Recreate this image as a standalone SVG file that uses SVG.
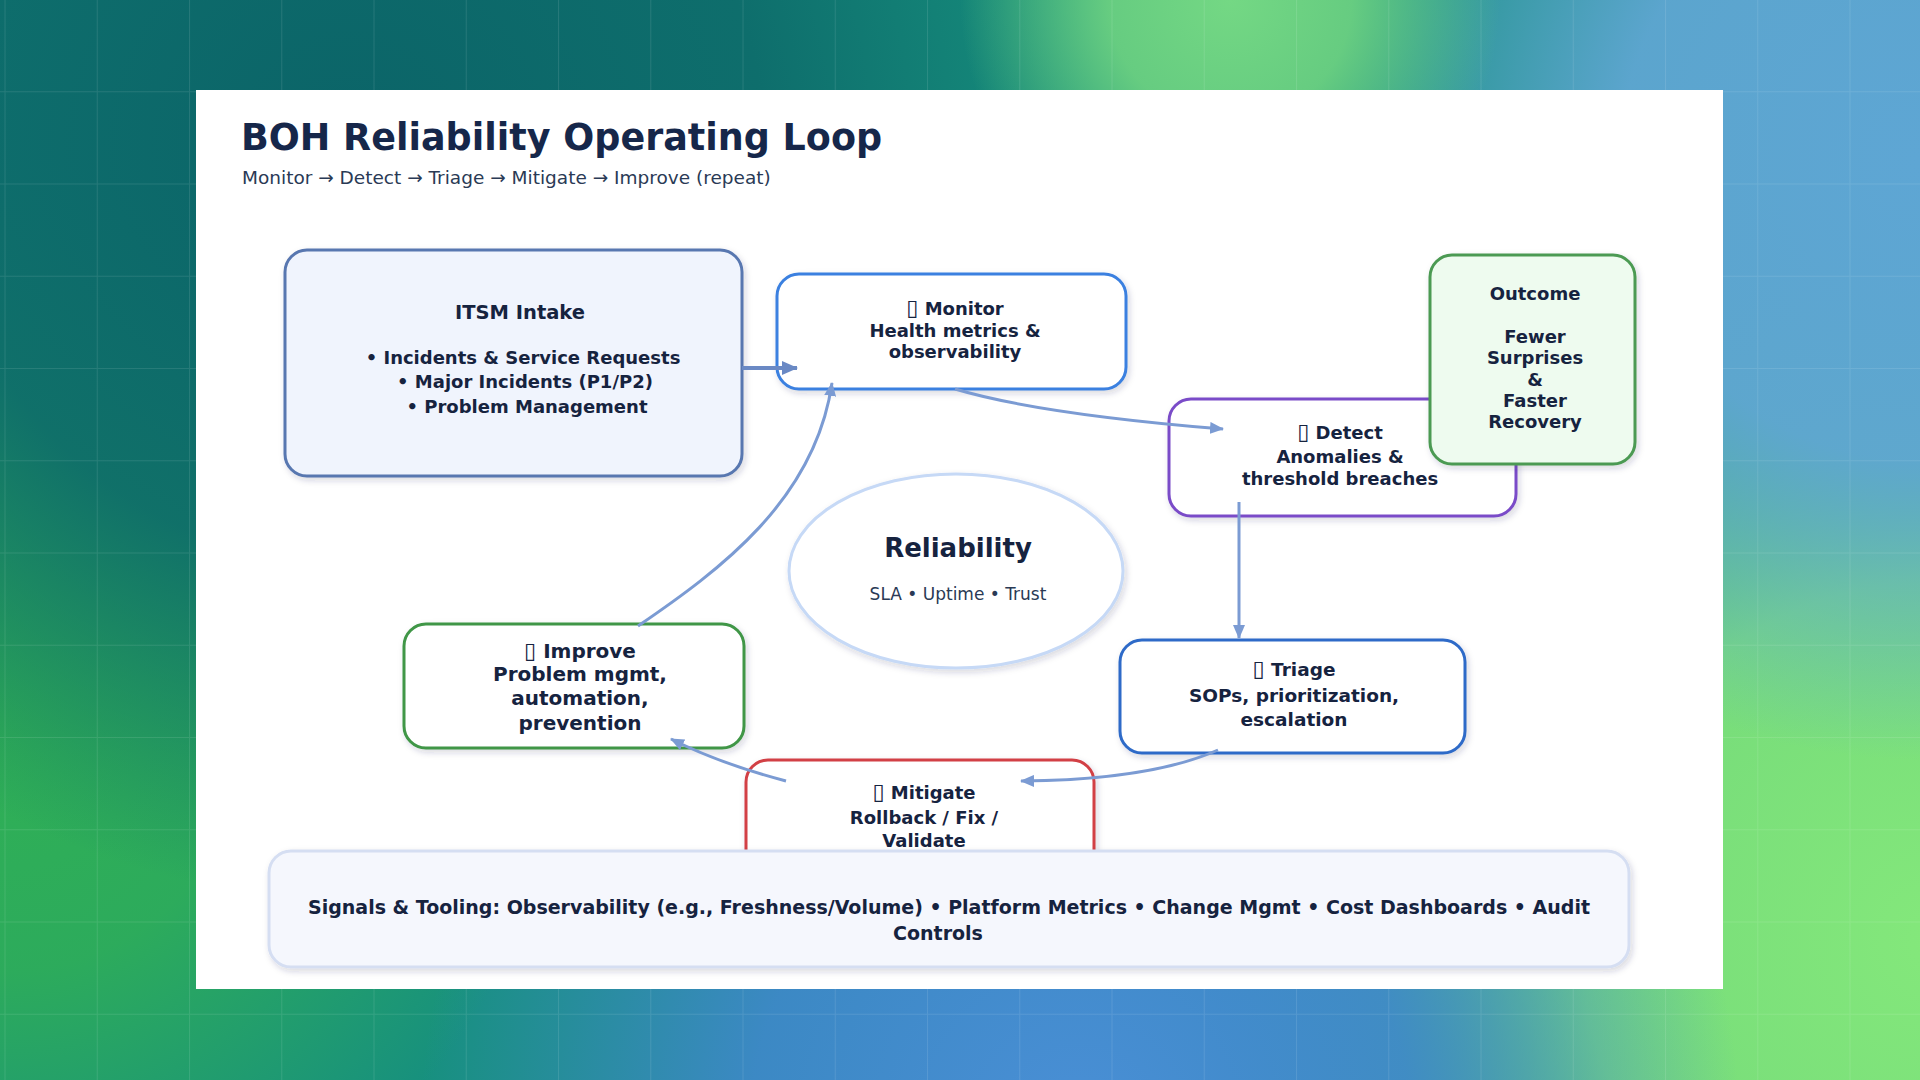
<svg xmlns="http://www.w3.org/2000/svg" width="1920" height="1080" viewBox="0 0 1920 1080">
<defs>
<style>
.t{font-family:"DejaVu Sans","Liberation Sans",sans-serif;font-weight:bold;fill:#16233f;text-anchor:middle;font-size:18px}
.r{font-family:"DejaVu Sans","Liberation Sans",sans-serif;fill:#2a3a55}
.ic{font-weight:normal;font-size:22px}
.box{stroke-width:3}
.conn{fill:none;stroke:#7b9bd3;stroke-width:3}
</style>
<radialGradient id="gA" cx="350" cy="150" r="750" gradientUnits="userSpaceOnUse"><stop offset="0" stop-color="#0b6468"/><stop offset="0.55" stop-color="#0d6a6a" stop-opacity="0.9"/><stop offset="1" stop-color="#0d6a6a" stop-opacity="0"/></radialGradient>
<radialGradient id="gB" cx="0" cy="720" r="560" gradientUnits="userSpaceOnUse"><stop offset="0" stop-color="#30b055"/><stop offset="0.45" stop-color="#2fae58" stop-opacity="0.9"/><stop offset="1" stop-color="#2fae58" stop-opacity="0"/></radialGradient>
<radialGradient id="gC" cx="1080" cy="1130" r="660" gradientUnits="userSpaceOnUse"><stop offset="0" stop-color="#4a8fd6"/><stop offset="0.5" stop-color="#4088cc" stop-opacity="0.9"/><stop offset="1" stop-color="#4088cc" stop-opacity="0"/></radialGradient>
<radialGradient id="gD" cx="1940" cy="940" r="720" gradientUnits="userSpaceOnUse"><stop offset="0" stop-color="#84e87b"/><stop offset="0.5" stop-color="#7ce07a" stop-opacity="0.95"/><stop offset="1" stop-color="#7ce07a" stop-opacity="0"/></radialGradient>
<radialGradient id="gE" cx="1920" cy="160" r="600" gradientUnits="userSpaceOnUse"><stop offset="0" stop-color="#5ea6d4"/><stop offset="0.5" stop-color="#5fa6d2" stop-opacity="0.95"/><stop offset="1" stop-color="#5fa6d2" stop-opacity="0"/></radialGradient>
<radialGradient id="gF" cx="1230" cy="0" r="270" gradientUnits="userSpaceOnUse"><stop offset="0" stop-color="#74d884"/><stop offset="0.45" stop-color="#6fd381" stop-opacity="0.9"/><stop offset="1" stop-color="#6fd381" stop-opacity="0"/></radialGradient>
<pattern id="grid" x="4.5" y="-1" width="92.25" height="92.25" patternUnits="userSpaceOnUse"><path d="M0 0V92.25M0 0H92.25" stroke="#ffffff" stroke-opacity="0.1" stroke-width="2" fill="none"/></pattern>
<filter id="sh" x="-10%" y="-10%" width="120%" height="130%"><feDropShadow dx="2" dy="3" stdDeviation="3" flood-color="#1a2a50" flood-opacity="0.18"/></filter>
<marker id="ah" viewBox="0 0 14 12" refX="13" refY="6" markerWidth="14" markerHeight="12" markerUnits="userSpaceOnUse" orient="auto"><path d="M0,0 L14,6 L0,12 z" fill="#7b9bd3"/></marker>
<marker id="ah2" viewBox="0 0 16 14" refX="15" refY="7" markerWidth="16" markerHeight="14" markerUnits="userSpaceOnUse" orient="auto"><path d="M0,0 L16,7 L0,14 z" fill="#6a89c4"/></marker>
</defs>

<g id="background">
<rect width="1920" height="1080" fill="#17907e"/>
<rect width="1920" height="1080" fill="url(#gB)"/>
<rect width="1920" height="1080" fill="url(#gA)"/>
<rect width="1920" height="1080" fill="url(#gD)"/>
<rect width="1920" height="1080" fill="url(#gC)"/>
<rect width="1920" height="1080" fill="url(#gE)"/>
<rect width="1920" height="1080" fill="url(#gF)"/>
<rect width="1920" height="1080" fill="url(#grid)"/>
</g>

<rect id="card" x="196" y="90" width="1527" height="899" fill="#ffffff"/>

<g id="title">
<text x="241" y="150" font-family="'DejaVu Sans','Liberation Sans',sans-serif" font-weight="bold" font-size="36.5" fill="#16274a">BOH Reliability Operating Loop</text>
<text class="r" x="242" y="184" font-size="18.5">Monitor → Detect → Triage → Mitigate → Improve (repeat)</text>
</g>

<g id="reliability-core">
<ellipse cx="956" cy="571" rx="167" ry="97" fill="#ffffff" stroke="#c6d9f6" stroke-width="3" filter="url(#sh)"/>
<text class="t" x="958" y="557" style="font-size:26px">Reliability</text>
<text class="r" x="958" y="600" font-size="17" text-anchor="middle">SLA • Uptime • Trust</text>
</g>

<g id="mitigate">
<rect class="box" x="746" y="760" width="348" height="120" rx="22" fill="#ffffff" stroke="#d23f44" filter="url(#sh)"/>
<text class="t" x="924" y="799"><tspan class="ic">▯</tspan> Mitigate</text>
<text class="t" x="924" y="824">Rollback / Fix /</text>
<text class="t" x="924" y="847">Validate</text>
</g>

<g id="itsm-intake">
<rect class="box" x="285" y="250" width="457" height="226" rx="22" fill="#f0f4fd" stroke="#5877b0" filter="url(#sh)"/>
<text class="t" x="520" y="319" style="font-size:19.5px">ITSM Intake</text>
<text class="t" x="523" y="364">• Incidents &amp; Service Requests</text>
<text class="t" x="525" y="388">• Major Incidents (P1/P2)</text>
<text class="t" x="527" y="413">• Problem Management</text>
</g>

<g id="monitor">
<rect class="box" x="777" y="274" width="349" height="115" rx="22" fill="#ffffff" stroke="#3a80e0" filter="url(#sh)"/>
<text class="t" x="955" y="315"><tspan class="ic">▯</tspan> Monitor</text>
<text class="t" x="955" y="337">Health metrics &amp;</text>
<text class="t" x="955" y="358">observability</text>
</g>

<g id="detect">
<rect class="box" x="1169" y="399" width="347" height="117" rx="22" fill="#ffffff" stroke="#7a4cc8" filter="url(#sh)"/>
<text class="t" x="1340" y="439"><tspan class="ic">▯</tspan> Detect</text>
<text class="t" x="1340" y="463">Anomalies &amp;</text>
<text class="t" x="1340" y="485">threshold breaches</text>
</g>

<g id="outcome">
<rect class="box" x="1430" y="255" width="205" height="209" rx="22" fill="#eefbef" stroke="#4c9a52" filter="url(#sh)"/>
<text class="t" x="1535" y="300">Outcome</text>
<text class="t" x="1535" y="343">Fewer</text>
<text class="t" x="1535" y="364">Surprises</text>
<text class="t" x="1535" y="386">&amp;</text>
<text class="t" x="1535" y="407">Faster</text>
<text class="t" x="1535" y="428">Recovery</text>
</g>

<g id="triage">
<rect class="box" x="1120" y="640" width="345" height="113" rx="22" fill="#ffffff" stroke="#2e6bc8" filter="url(#sh)"/>
<text class="t" x="1294" y="676" style="font-size:18.5px"><tspan class="ic">▯</tspan> Triage</text>
<text class="t" x="1294" y="702" style="font-size:18.5px">SOPs, prioritization,</text>
<text class="t" x="1294" y="726" style="font-size:18.5px">escalation</text>
</g>

<g id="improve">
<rect class="box" x="404" y="624" width="340" height="124" rx="22" fill="#ffffff" stroke="#3f9646" filter="url(#sh)"/>
<text class="t" x="580" y="658" style="font-size:20px"><tspan class="ic">▯</tspan> Improve</text>
<text class="t" x="580" y="681" style="font-size:20px">Problem mgmt,</text>
<text class="t" x="580" y="705" style="font-size:20px">automation,</text>
<text class="t" x="580" y="730" style="font-size:20px">prevention</text>
</g>

<g id="connectors">
<path d="M742,368 L797,368" fill="none" stroke="#6a89c4" stroke-width="4" marker-end="url(#ah2)"/>
<path class="conn" d="M955,389 Q1039,414 1223,429" marker-end="url(#ah)"/>
<path class="conn" d="M1239,502 L1239,638" marker-end="url(#ah)"/>
<path class="conn" d="M1218,750 Q1150,780 1021,781" marker-end="url(#ah)"/>
<path class="conn" d="M786,781 Q721,764 671,739" marker-end="url(#ah)"/>
<path class="conn" d="M638,626 C720,570 815,500 832,383" marker-end="url(#ah)"/>
</g>

<g id="signals-tooling">
<rect x="269" y="851" width="1360" height="116" rx="22" fill="#f5f7fd" stroke="#d5def2" stroke-width="3" filter="url(#sh)"/>
<text class="t" x="949" y="914" style="font-size:19px">Signals &amp; Tooling: Observability (e.g., Freshness/Volume) • Platform Metrics • Change Mgmt • Cost Dashboards • Audit</text>
<text class="t" x="938" y="940" style="font-size:19px">Controls</text>
</g>
</svg>
